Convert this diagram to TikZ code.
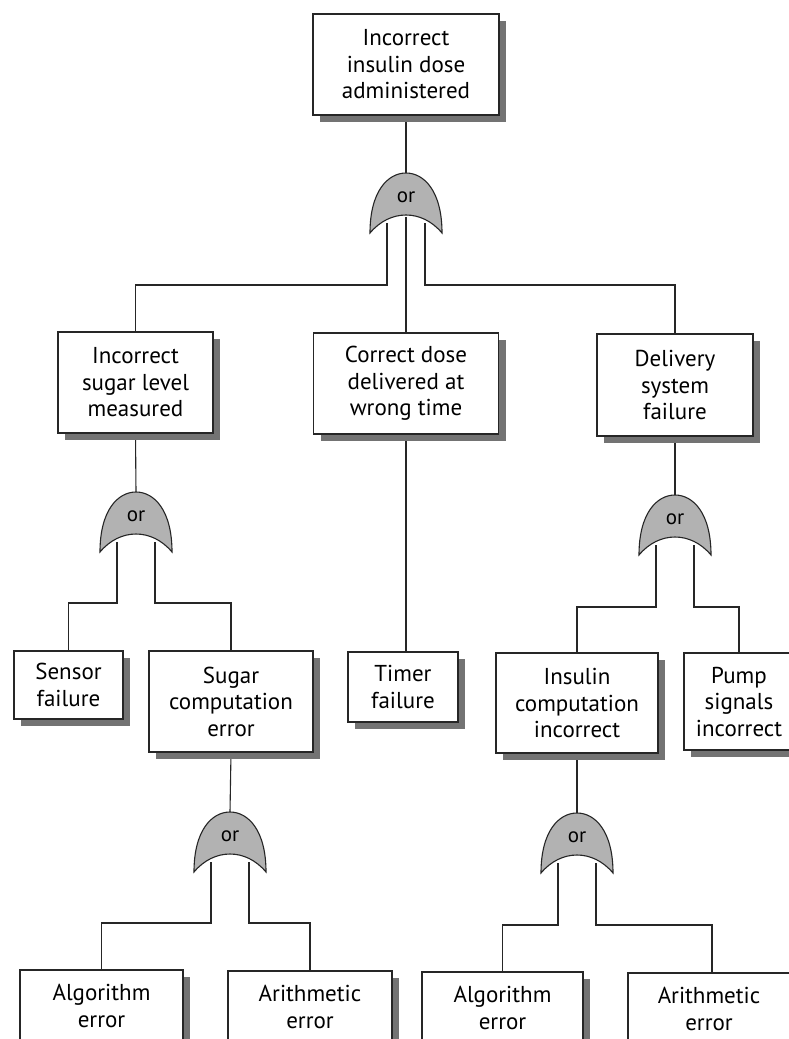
\documentclass[tikz,border=0pt]{standalone}
\usepackage{fontspec}
\setmainfont{PT Sans}
\usetikzlibrary{shadows,backgrounds,calc}
\tikzset{
  evbox/.style={draw=black!85, line width=1.5pt, fill=white, align=center, inner sep=0pt,
    font=\fontsize{23}{26.5}\selectfont,
    drop shadow={shadow xshift=7pt, shadow yshift=-7pt, fill=black!55, opacity=1}},
  conn/.style={draw=black!85, line width=1.1pt},
  gateshape/.style={draw=black!85, line width=1.1pt, fill=black!30},
  gatelabel/.style={font=\fontsize{21}{22}\selectfont, inner sep=0pt},
  orgate/.pic={
    \path[gateshape] (-36,60) .. controls (-36,18) and (-18,0) .. (0,0)
       .. controls (18,0) and (36,18) .. (36,60)
       .. controls (16,36) and (-16,36) .. (-36,60) -- cycle;
    \node[gatelabel] at (0,24) {or};
    \coordinate (-top) at (0,0);
    \coordinate (-l) at (-19,50);
    \coordinate (-m) at (0,44);
    \coordinate (-r) at (19,50);
  }
}
\begin{document}
\begin{tikzpicture}[x=1pt,y=-1pt]
\useasboundingbox (0,0) rectangle (789,1039);
\clip (0,0) rectangle (789,1039);

% level 0
\node[evbox, minimum width=186pt, minimum height=101pt] (T) at (406,64.5) {Incorrect\\insulin dose\\administered};
\pic (g0) at (406,173) {orgate};

% level 1
\node[evbox, minimum width=155pt, minimum height=101pt] (L1) at (135.5,382.5) {Incorrect\\sugar level\\measured};
\node[evbox, minimum width=185pt, minimum height=101pt] (M1) at (406,383.5) {Correct dose\\delivered at\\wrong time};
\node[evbox, minimum width=156pt, minimum height=102pt] (R1) at (675,385) {Delivery\\system\\failure};

\pic (g1) at (136,492) {orgate};
\pic (g2) at (675,495) {orgate};

% level 2
\node[evbox, minimum width=109pt, minimum height=68pt] (S) at (68.5,685) {Sensor\\failure};
\node[evbox, minimum width=164pt, minimum height=101pt] (SC) at (231,701.5) {Sugar\\computation\\error};
\node[evbox, minimum width=110pt, minimum height=70pt] (TF) at (403,687) {Timer\\failure};
\node[evbox, minimum width=162pt, minimum height=100pt] (IC) at (577,703) {Insulin\\computation\\incorrect};
\node[evbox, minimum width=110pt, minimum height=97pt] (P) at (739,701.5) {Pump\\signals\\incorrect};

\pic (g3) at (230,812) {orgate};
\pic (g4) at (577,813) {orgate};

% level 3
\node[evbox, minimum width=163pt, minimum height=72pt] (A1) at (101.5,1006) {Algorithm\\error};
\node[evbox, minimum width=164pt, minimum height=72pt] (B1) at (310,1007) {Arithmetic\\error};
\node[evbox, minimum width=161pt, minimum height=72pt] (A2) at (502.5,1008) {Algorithm\\error};
\node[evbox, minimum width=162pt, minimum height=72pt] (B2) at (709,1009) {Arithmetic\\error};

\begin{scope}[on background layer]
  \fill[white] (0,0) rectangle (789,1039);
  \draw[conn] (T.south) -- (g0-top);
  \draw[conn] (g0-l) -- ++(0,62) -| (L1.north);
  \draw[conn] (g0-m) -- (M1.north);
  \draw[conn] (g0-r) -- ++(0,62) -| (R1.north);
  \draw[conn] (M1.south) -- (M1.south |- TF.north);

  \draw[conn] (L1.south) -- (g1-top);
  \draw[conn] (g1-l) -- ++(0,61) -| (S.north);
  \draw[conn] (g1-r) -- ++(0,61) -| (SC.north);

  \draw[conn] (R1.south) -- (g2-top);
  \draw[conn] (g2-l) -- ++(0,62) -| (IC.north);
  \draw[conn] (g2-r) -- ++(0,62) -| (P.north);

  \draw[conn] (SC.south) -- (g3-top);
  \draw[conn] (g3-l) -- ++(0,61) -| (A1.north);
  \draw[conn] (g3-r) -- ++(0,61) -| (B1.north);

  \draw[conn] (IC.south) -- (g4-top);
  \draw[conn] (g4-l) -- ++(0,62) -| (A2.north);
  \draw[conn] (g4-r) -- ++(0,62) -| ([xshift=3pt]B2.north);
\end{scope}
\end{tikzpicture}
\end{document}
